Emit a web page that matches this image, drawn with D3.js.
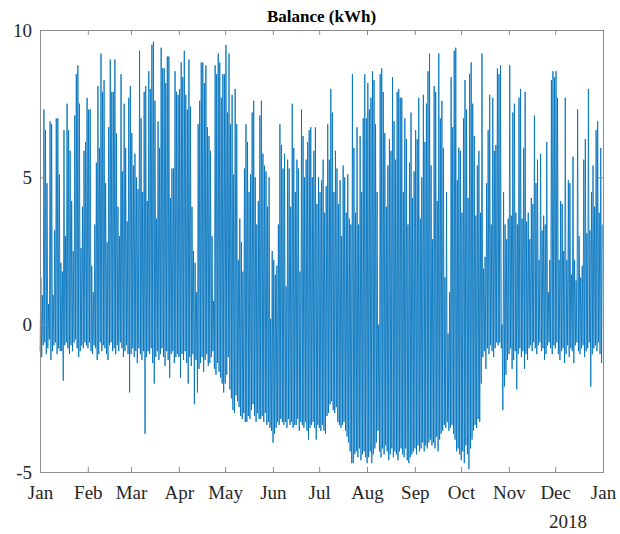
<!DOCTYPE html>
<html>
<head>
<meta charset="utf-8">
<script src="https://cdn.jsdelivr.net/npm/d3@7"></script>
<style>
body { margin: 0; background: #fff; }
text { font-family: "Liberation Serif", "Times New Roman", serif; }
</style>
</head>
<body>
<div id="chart"></div>
<script>
// data (kWh), one midday peak and one night trough per day of 2017
const year = 2017;
const title = "Balance (kWh)";
const monthLabels = ["Jan","Feb","Mar","Apr","May","Jun","Jul","Aug","Sep","Oct","Nov","Dec","Jan"];
const yearLabel = "2018";
const yTicks = [-5, 0, 5, 10];

const dailyPeak = [
	// Jan
	1.6,1.0,7.3,6.6,4.8,0.7,6.9,6.8,1.0,3.2, 7.0,7.0,5.1,2.1,1.8,6.6,3.0,7.5,6.6,5.9, 4.2,2.5,7.1,8.5,8.8,7.5,2.6,4.0,5.9,6.2, 7.7,
	// Feb
	7.3,7.3,2.0,1.1,3.4,5.5,8.1,6.0,9.2,7.9, 8.3,4.8,2.8,6.7,9.0,7.9,7.9,9.0,6.5,4.0, 3.0,8.5,5.2,7.5,6.0,3.5,7.7,8.1,
	// Mar
	6.5,5.4,5.8,5.0,4.6,9.3,7.0,4.5,7.9,8.1, 4.2,8.6,8.0,9.5,9.6,7.6,3.6,6.9,6.0,9.4, 8.7,8.7,8.2,9.1,9.1,4.3,5.3,5.3,8.6,7.9, 7.8,
	// Apr
	8.0,8.9,8.4,9.3,7.8,7.3,9.0,7.4,4.0,2.5, 2.1,1.1,6.8,7.6,8.9,8.9,8.2,8.8,6.7,6.4, 5.9,3.0,0.8,8.8,8.5,9.2,8.9,7.7,8.5,8.5,
	// May
	9.5,7.2,9.2,6.8,7.8,5.1,8.0,6.8,2.2,3.6, 2.8,1.8,5.3,6.8,6.2,4.5,5.1,7.2,7.6,5.0, 3.4,4.2,7.1,7.6,5.8,5.4,5.2,4.0,5.0,0.2, 2.5,
	// Jun
	2.2,1.7,2.0,3.4,6.8,6.1,5.3,5.8,1.3,5.6, 5.3,4.0,7.5,6.0,4.5,5.6,5.3,1.8,7.3,6.4, 5.0,5.6,6.2,6.6,6.7,5.0,5.9,6.7,4.1,5.0,
	// Jul
	4.5,4.9,5.6,3.8,4.7,6.8,5.6,8.0,7.2,4.5, 5.9,5.3,4.1,4.9,3.0,5.4,5.0,3.8,5.1,3.6, 3.4,8.5,6.0,3.8,6.7,3.4,6.4,4.5,7.0,8.5, 7.0,
	// Aug
	8.2,7.3,7.7,8.6,8.3,6.8,4.5,0.0,8.5,8.7, 7.9,6.5,4.0,5.4,6.3,5.9,8.4,6.9,5.6,7.9, 8.0,7.7,7.7,4.5,7.0,6.3,3.4,5.5,7.2,4.3, 5.2,
	// Sep
	6.6,6.3,7.7,3.6,5.0,7.8,6.2,7.5,8.6,9.2, 5.4,2.9,8.1,7.9,4.2,9.2,7.0,7.6,6.0,1.6, 4.5,-0.3,1.1,8.4,6.7,9.3,9.4,4.9,6.0,5.9,
	// Oct
	3.8,7.0,8.3,7.3,4.3,8.5,8.9,7.5,6.4,3.7, 5.4,5.9,3.8,9.2,1.9,2.3,4.8,6.6,7.8,3.4, 7.7,5.9,6.1,8.7,8.5,8.8,0.0,4.5,3.4,2.9, 3.6,
	// Nov
	8.8,3.7,7.2,7.5,3.8,3.4,7.7,8.0,3.6,6.0, 7.9,3.5,3.8,2.9,4.3,4.1,7.1,4.8,5.6,2.2, 5.8,3.2,3.7,3.4,6.2,1.1,2.2,8.3,8.6,8.4,
	// Dec
	8.6,7.7,2.2,4.2,4.1,2.5,7.7,2.2,4.9,4.8, 1.7,5.7,2.2,1.5,7.3,3.0,1.6,2.0,5.6,6.3, 3.1,8.0,3.2,4.5,5.4,4.0,6.6,6.9,3.8,6.0, 3.4
];

const dailyTrough = [
	// Jan
	-0.9,-1.1,-0.7,-0.6,-1.0,-0.8,-0.5,-1.2,-0.9,-0.7, -0.6,-1.0,-0.8,-0.9,-0.9,-1.9,-0.7,-0.6,-0.8,-1.0, -0.7,-0.9,-0.6,-0.5,-0.8,-1.1,-0.9,-0.7,-0.8,-0.6, -0.7,
	// Feb
	-0.8,-0.6,-0.9,-1.0,-0.7,-0.8,-1.2,-1.0,-0.6,-0.9, -0.7,-0.8,-1.0,-1.2,-0.7,-0.6,-0.9,-0.8,-1.0,-0.7, -0.9,-0.6,-0.8,-1.1,-0.9,-0.7,-1.0,-2.3,
	// Mar
	-1.0,-0.8,-1.1,-0.9,-1.3,-0.8,-1.0,-1.2,-0.9,-3.7, -1.1,-0.9,-1.0,-0.8,-1.3,-2.0,-1.1,-0.9,-1.2,-1.0, -0.8,-1.1,-1.4,-0.9,-1.2,-1.8,-1.0,-0.9,-1.3,-1.1, -1.0,
	// Apr
	-1.1,-1.8,-1.0,-1.2,-0.9,-1.3,-2.0,-1.1,-1.4,-1.0, -2.7,-1.2,-2.3,-1.5,-1.3,-1.1,-1.6,-1.2,-1.0,-1.4, -1.3,-1.1,-0.9,-1.5,-1.7,-1.3,-1.6,-1.8,-2.0,-2.3,
	// May
	-2.0,-1.7,-1.1,-2.2,-2.5,-2.9,-3.0,-2.4,-2.6,-2.8, -3.1,-3.2,-3.0,-3.3,-3.3,-3.1,-3.2,-2.9,-2.7,-3.1, -3.3,-3.0,-3.2,-3.2,-3.1,-3.3,-3.0,-3.4,-3.3,-3.5, -3.6,
	// Jun
	-4.0,-3.7,-3.5,-3.3,-3.4,-3.2,-3.3,-3.4,-3.3,-3.5, -3.2,-3.4,-3.3,-3.5,-3.4,-3.4,-3.2,-3.6,-3.3,-3.4, -3.5,-3.3,-3.6,-3.9,-3.5,-3.4,-3.3,-3.5,-3.9,-3.4,
	// Jul
	-3.5,-3.6,-3.4,-3.6,-3.7,-3.1,-3.0,-2.7,-2.6,-2.9, -3.0,-2.8,-3.3,-3.4,-3.5,-3.4,-3.3,-3.6,-3.8,-4.0, -4.3,-4.7,-4.7,-4.4,-4.3,-4.5,-4.2,-4.6,-4.4,-4.3, -4.5,
	// Aug
	-4.7,-4.5,-4.3,-4.7,-4.4,-4.2,-4.0,-3.6,-4.3,-4.5, -4.2,-4.4,-4.1,-4.3,-4.6,-4.4,-4.2,-4.5,-4.3,-4.4, -4.6,-4.3,-4.2,-4.4,-4.5,-4.2,-4.6,-4.7,-4.5,-4.4, -4.3,
	// Sep
	-4.2,-4.4,-4.1,-4.3,-4.2,-4.0,-4.3,-4.1,-4.2,-4.0, -3.9,-4.1,-4.0,-4.2,-3.8,-4.3,-3.9,-3.7,-3.6,-3.4, -3.5,-3.3,-3.6,-3.5,-3.4,-3.7,-3.9,-4.3,-4.2,-4.4,
	// Oct
	-4.6,-4.3,-4.7,-4.1,-4.4,-4.9,-4.2,-3.9,-3.6,-3.4, -3.5,-3.2,-3.3,-2.0,-1.1,-0.9,-1.5,-0.8,-1.0,-0.7, -0.9,-1.1,-0.8,-0.6,-0.7,-0.6,-0.8,-2.9,-2.1,-1.7, -1.2,
	// Nov
	-1.0,-0.8,-1.5,-1.2,-0.9,-2.2,-1.0,-0.8,-1.1,-0.9, -1.5,-1.0,-1.2,-0.8,-0.7,-0.9,-0.6,-0.8,-1.0,-0.7, -0.6,-0.9,-0.8,-1.2,-1.0,-0.7,-0.6,-0.8,-1.0,-0.7,
	// Dec
	-0.8,-0.6,-1.0,-1.2,-0.9,-0.8,-1.3,-1.0,-0.7,-1.1, -0.8,-0.9,-1.3,-0.7,-0.6,-0.9,-1.0,-0.8,-0.7,-1.1, -0.9,-0.8,-0.6,-2.1,-1.0,-0.8,-0.7,-0.9,-0.6,-1.0, -1.3
];

const W = 620, H = 534;
const margin = {top: 30, right: 17, bottom: 62, left: 40};
const width = W - margin.left - margin.right,
	height = H - margin.top - margin.bottom;

const svg = d3.select("#chart").append("svg")
	.attr("width", W)
	.attr("height", H);

const g = svg.append("g")
	.attr("transform", "translate(" + margin.left + "," + margin.top + ")");

const x = d3.scaleTime()
	.domain([new Date(year, 0, 1), new Date(year + 1, 0, 1)])
	.range([0, width]);

const y = d3.scaleLinear()
	.domain([-5, 10])
	.range([height, 0]);

// night trough then midday peak, day after day
const series = [];
dailyPeak.forEach((p, i) => {
	series.push({t: new Date(year, 0, 1 + i, 2), v: dailyTrough[i]});
	series.push({t: new Date(year, 0, 1 + i, 13), v: p});
});

const line = d3.line()
	.x(d => x(d.t))
	.y(d => y(d.v));

g.append("path")
	.datum(series)
	.attr("fill", "none")
	.attr("stroke", "#0072BD")
	.attr("stroke-width", 0.85)
	.attr("stroke-linejoin", "round")
	.attr("d", line);

const monthTicks = monthLabels.map((m, i) => new Date(year, i, 1));
const axisColor = "#262626",
	boxColor = "#8c8c8c";

function styleAxis(sel) {
	sel.select(".domain").attr("stroke", boxColor).attr("stroke-width", 1);
	sel.selectAll(".tick line").attr("stroke", boxColor).attr("stroke-width", 1);
	sel.selectAll(".tick text").attr("fill", axisColor).style("font-size", "19px");
}

g.append("g")
	.attr("transform", "translate(0," + height + ")")
	.call(d3.axisBottom(x)
		.tickValues(monthTicks)
		.tickSize(-5)
		.tickSizeOuter(0)
		.tickPadding(14)
		.tickFormat((d, i) => monthLabels[i]))
	.call(styleAxis);

g.append("g")
	.call(d3.axisTop(x)
		.tickValues(monthTicks)
		.tickSize(-5)
		.tickSizeOuter(0)
		.tickFormat(""))
	.call(styleAxis);

g.append("g")
	.call(d3.axisLeft(y)
		.tickValues(yTicks)
		.tickSize(-5)
		.tickSizeOuter(0)
		.tickPadding(8)
		.tickFormat(d => d < 0 ? "-" + Math.abs(d) : d))
	.call(styleAxis);

g.append("g")
	.attr("transform", "translate(" + width + ",0)")
	.call(d3.axisRight(y)
		.tickValues(yTicks)
		.tickSize(-5)
		.tickSizeOuter(0)
		.tickFormat(""))
	.call(styleAxis);

g.append("text")
	.attr("x", x(new Date(year + 1, 0, 1)) - 35)
	.attr("y", height + 56)
	.attr("text-anchor", "middle")
	.attr("fill", axisColor)
	.style("font-size", "19px")
	.text(yearLabel);

svg.append("text")
	.attr("x", margin.left + width / 2)
	.attr("y", 22)
	.attr("text-anchor", "middle")
	.attr("fill", "#000")
	.style("font-size", "17px")
	.style("font-weight", "bold")
	.text(title);
</script>
</body>
</html>
